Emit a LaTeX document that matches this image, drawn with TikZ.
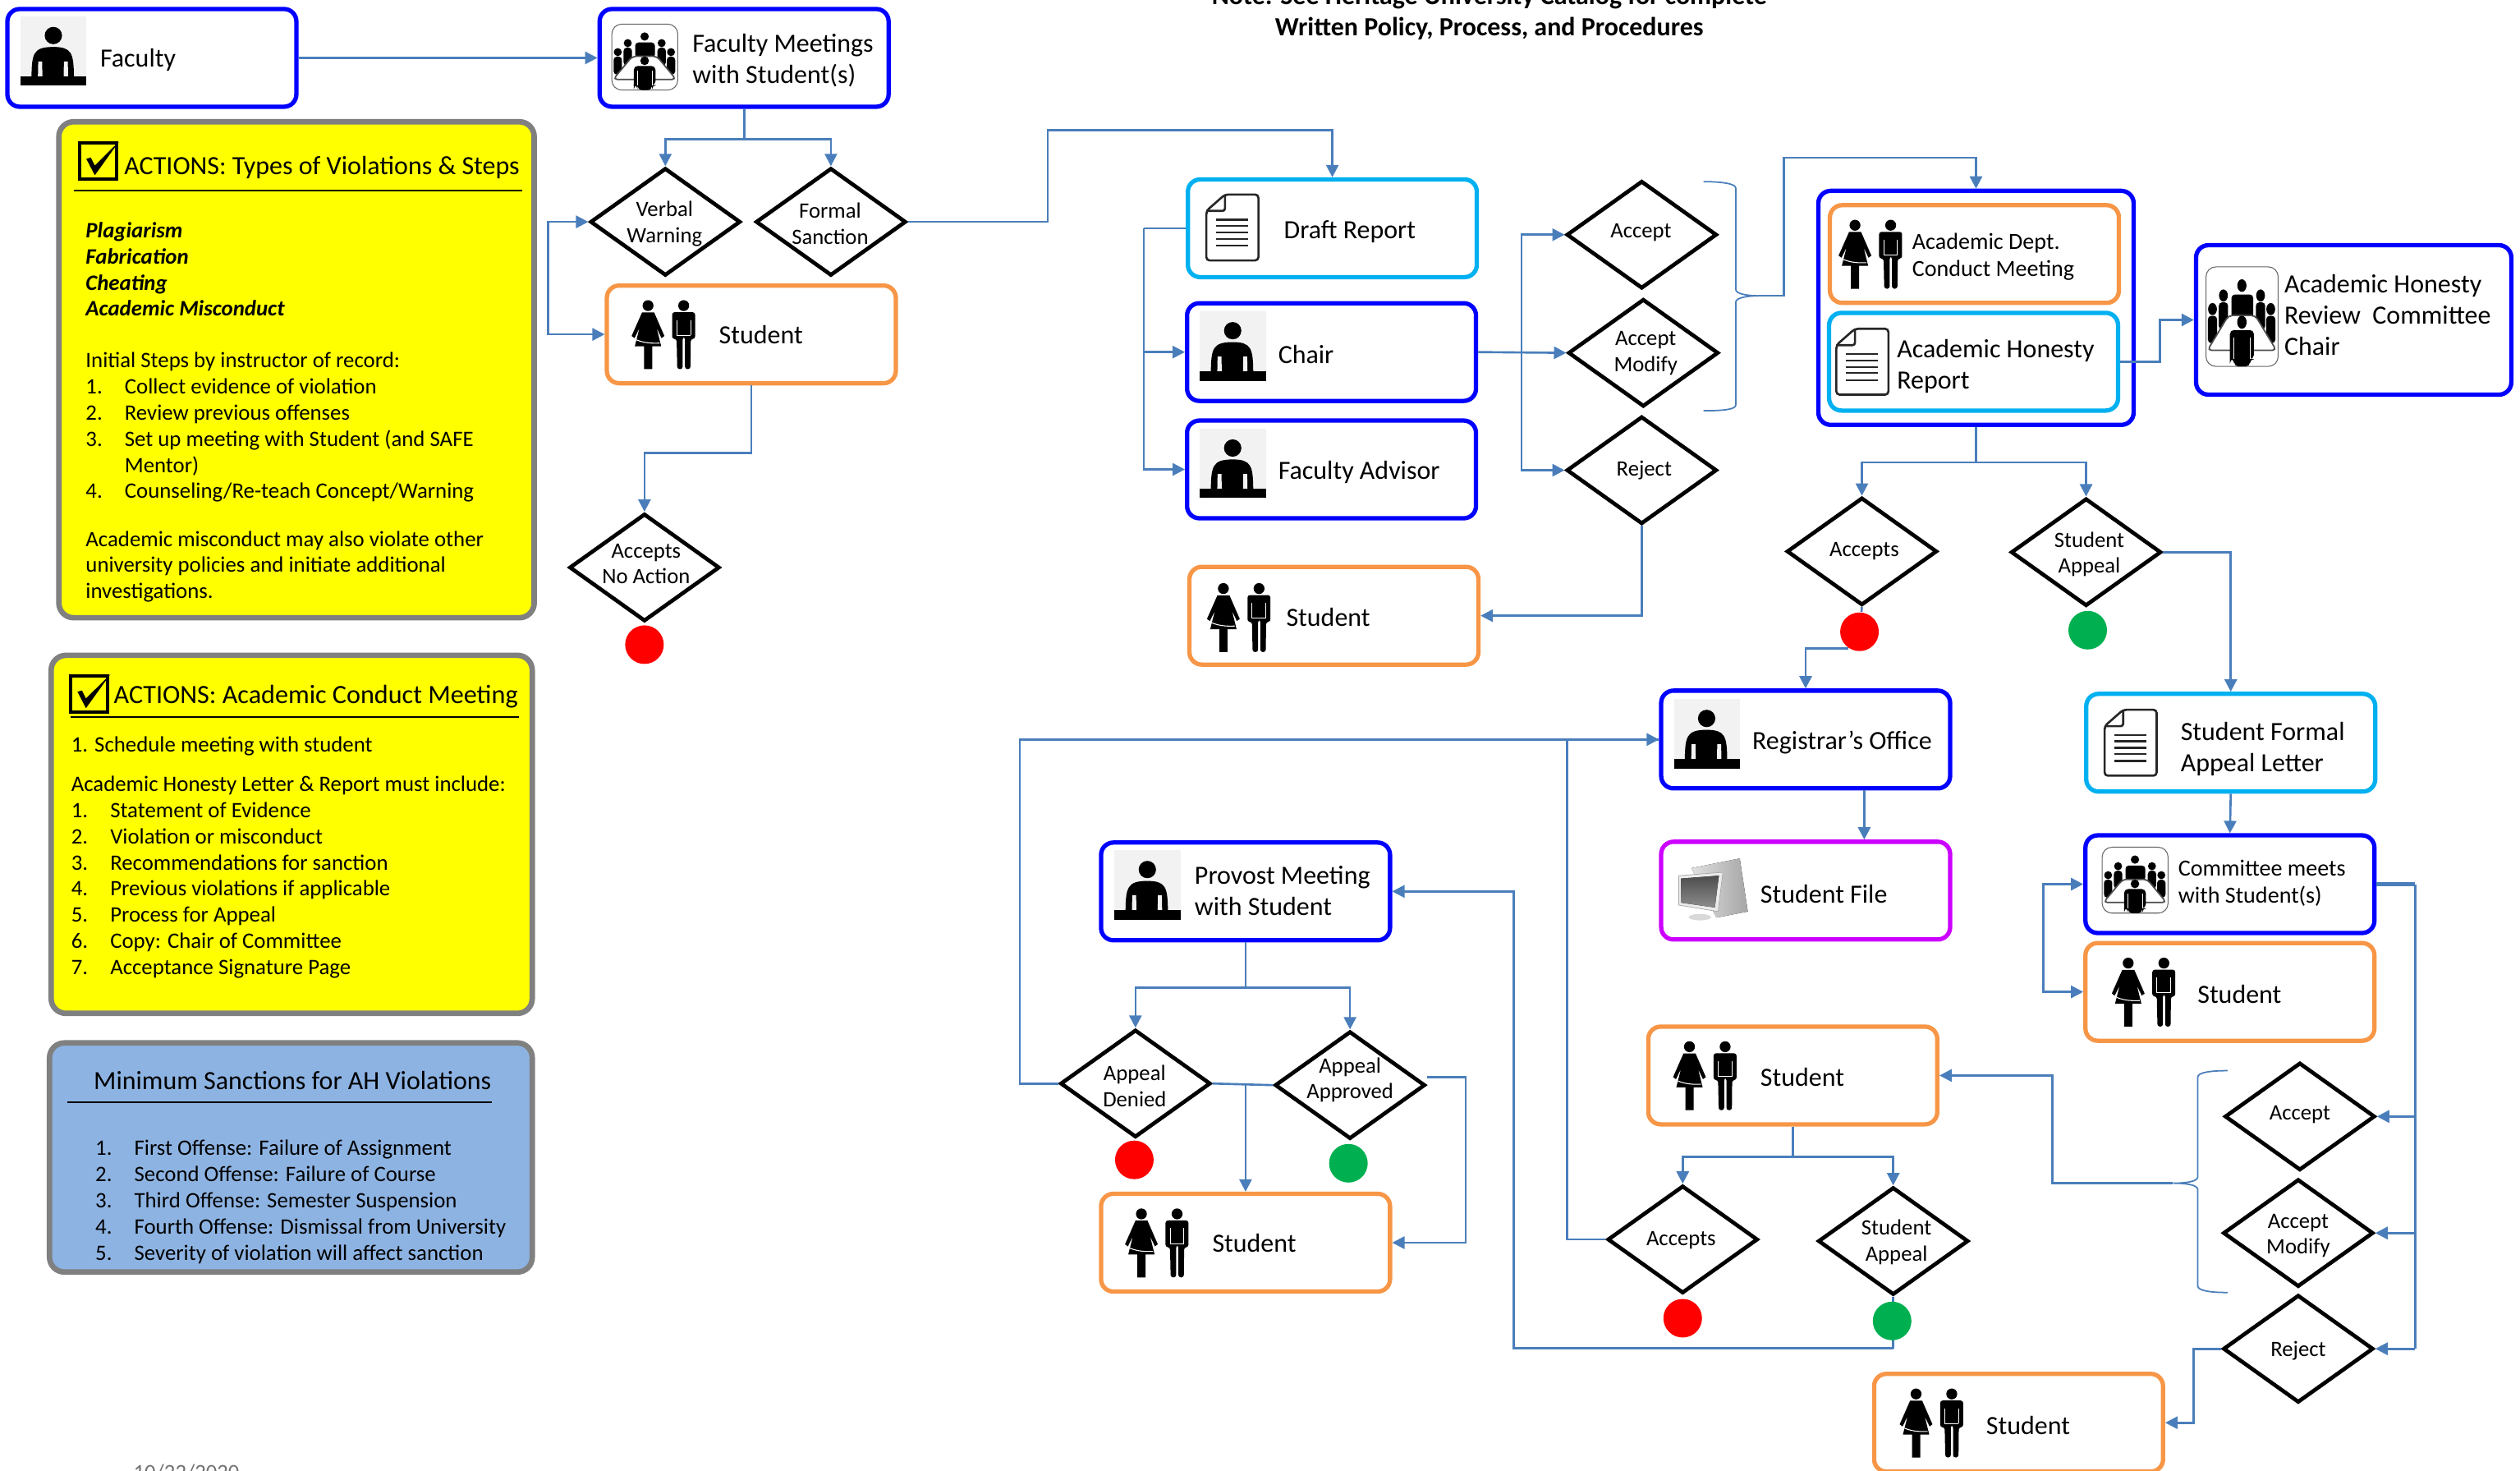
\documentclass[tikz,border=0pt]{standalone}
\usepackage{fontspec}
\setmainfont{Carlito}
\usetikzlibrary{arrows.meta,shapes.geometric}
\definecolor{linkblue}{HTML}{4A7EBB}
\definecolor{roleblue}{HTML}{0000FF}
\definecolor{doccyan}{HTML}{00B0F0}
\definecolor{studorange}{HTML}{F79646}
\definecolor{filepink}{HTML}{CC00FF}
\definecolor{panelblue}{HTML}{8DB3E2}
\definecolor{panelyellow}{RGB}{255,255,0}
\definecolor{noREDdot}{HTML}{FF0000}
\definecolor{yesdot}{HTML}{00B050}
\tikzset{
  box/.style={draw,fill=white,rounded corners=1.5mm,line width=1.5pt,
    minimum width=3.52cm,minimum height=1.19cm,inner sep=0pt},
  rolebox/.style={box,draw=roleblue},
  docbox/.style={box,draw=doccyan},
  studbox/.style={box,draw=studorange},
  filebox/.style={box,draw=filepink},
  panel/.style={draw=black!50,rounded corners=1.8mm,line width=1.9pt,inner sep=0pt},
  choice/.style={draw,diamond,fill=white,line width=1.35pt,minimum width=1.83cm,
    minimum height=1.31cm,inner sep=0pt},
  choicetxt/.style={align=center,inner sep=0pt,yshift=-0.4pt,font=\fontsize{7.6}{9}\selectfont},
  dot/.style={circle,minimum size=0.47cm,inner sep=0pt},
  nodot/.style={dot,fill=noREDdot},
  yesnode/.style={dot,fill=yesdot},
  lbl/.style={anchor=west,align=left,inner sep=0pt,yshift=-0.8pt,font=\fontsize{9.1}{10.8}\selectfont},
  small lbl/.style={lbl,font=\fontsize{8}{9.4}\selectfont},
  body/.style={anchor=north west,align=left,inner sep=0pt,yshift=-0.5pt,font=\fontsize{7.63}{9.06}\selectfont},
  head/.style={anchor=west,inner sep=0pt,yshift=-0.6pt,font=\fontsize{9.1}{11}\selectfont},
  link/.style={draw=linkblue,line width=0.75pt},
  thinlink/.style={draw=linkblue,line width=0.5pt},
}
\newcommand{\itm}[2]{\makebox[13.5pt][l]{#1}#2\\}
% person behind a desk
\def\DeskIcon(#1){%
  \begin{scope}[shift={(#1)}]
    \fill[black!5] (0,0) rectangle (41,43);
    \fill (20.4,11.9) circle (5.4);
    \fill (6.8,37.5) .. controls (7,23) and (8,19) .. (20.4,19)
      .. controls (32,19) and (33,23) .. (33.2,37.5) -- cycle;
    \fill[black!5] (11,28) -- (13.4,28) -- (13.6,37.2) -- (10.8,37.2) -- cycle;
    \fill[black!5] (27,28) -- (29.4,28) -- (29.6,37.2) -- (26.8,37.2) -- cycle;
    \fill (0,37.1) rectangle (41,43);
  \end{scope}
}
% woman and man
\def\PairIcon(#1){%
  \begin{scope}[shift={(#1)}]
    \fill (10.2,3.1) circle (3.4);
    \fill (6.5,7.3) -- (14,7.3) -- (20.4,22) -- (18.6,23.3) -- (15.6,17) -- (18.4,28.4)
      -- (12.8,28.4) -- (12.8,42.6) -- (7.7,42.6) -- (7.7,28.4) -- (2,28.4) -- (4.9,17)
      -- (1.8,23.3) -- (0,22) -- cycle;
    \draw[white,line width=0.3pt] (3,24.4) .. controls (8,26.5) and (13,26.6) .. (17.4,26.4);
    \fill (32.4,3.1) circle (3.4);
    \fill[rounded corners=0.3mm] (25.2,7.2) -- (39.5,7.2) -- (39.5,23.8) -- (36.8,23.8) -- (36.6,42.6)
      -- (33.2,42.6) -- (33.2,22.6) -- (31.8,22.6) -- (31.8,42.6) -- (28.4,42.6) -- (28,23.8) -- (25.2,23.8) -- cycle;
    \draw[white,line width=0.3pt] (28,21.6) -- (36.6,21.6);
    \draw[white,line width=0.2pt] (28,12) -- (28,21.6) (36.6,12) -- (36.6,21.6);
  \end{scope}
}
% page with a folded corner
\def\DocIcon(#1){%
  \begin{scope}[shift={(#1)}]
    \draw[black!85,line width=0.75pt,rounded corners=0.4mm,fill=white] (11.6,0) -- (32.4,0) -- (32.4,41) -- (0,41) -- (0,10.2) -- cycle;
    \draw[black!85,line width=0.75pt,rounded corners=0.3mm] (11.6,0) -- (11.6,10.2) -- (0,10.2);
    \foreach \row in {15.7,19.6,23.7,27.6,31.9}
      \draw[black!85,line width=0.65pt] (6,\row) -- (26,\row);
  \end{scope}
}
% people round a table
\def\TableIcon(#1)#2#3{%
  \begin{scope}[shift={(#1)},xscale=#2,yscale=#3]
    \draw[black!60,line width=0.3pt,rounded corners=1.2mm,fill=white] (0,0) rectangle (41,41);
    \fill (20.4,7.7) circle (2.6);
    \fill[rounded corners=0.4mm] (14.5,21) -- (14.5,11.4) -- (26.8,11.4) -- (26.8,21) -- cycle;
    \foreach \px/\py in {9.9/11.8,31/11.8,3.7/17.4,36.8/17.4} {
      \fill (\px,\py) circle (2.5);
      \fill[rounded corners=0.4mm] (\px-2.6,\py+2.8) rectangle (\px+2.6,\py+14);
    }
    \draw[black!70,fill=white,line width=0.5pt,rounded corners=0.5mm] (12.8,20) -- (28,20) -- (40,34.4) -- (0.8,34.4) -- cycle;
    \fill (20.4,22.8) circle (2.7);
    \fill[rounded corners=0.5mm] (13.6,41) -- (13.6,26) -- (27.2,26) -- (27.2,38) -- (25,38) -- (25,41) -- (16,41) -- (16,38) -- (13.6,38) -- cycle;
    \draw[white,line width=0.25pt] (16,29) -- (16,38) (25,29) -- (25,38);
  \end{scope}
}
% computer with a screen
\def\ScreenIcon(#1){%
  \begin{scope}[shift={(#1)}]
    \fill[left color=black!12,right color=black!35] (8,6) -- (38,0) -- (43,33) -- (23.5,36.8) -- cycle;
    \fill[black!15] (13.2,36.5) ellipse (7 and 2);
    \fill[black!8,draw=black!35,line width=0.2pt] (0,10.7) -- (27.5,8.6) -- (24.5,33) -- (0,29) -- cycle;
    \fill[top color=black!70,bottom color=black!45] (1.5,12.5) -- (25,10.7) -- (22.5,30.5) -- (1.5,27.5) -- cycle;
  \end{scope}
}
% box with a tick
\def\CheckIcon(#1){%
  \begin{scope}[shift={(#1)}]
    \draw[line width=1pt] (0,0) rectangle (23,22.5);
    \fill (4.2,9.8) -- (7,9) -- (9.5,14) -- (24.7,-1.1) -- (9.5,20) -- cycle;
  \end{scope}
}

\begin{document}
\begin{tikzpicture}[x=0.01957cm,y=-0.01957cm,>={Triangle[length=1.5mm,width=1.5mm]}]
  \useasboundingbox (0,0) rectangle (1568,915);
  % Note and date
  \node[align=center,inner sep=0pt,font=\bfseries\fontsize{9.1}{11}\selectfont] (note) at (926.7,8)
    {Note: See Heritage University Catalog for complete\\Written Policy, Process, and Procedures};
  \node[anchor=north,inner sep=0pt,text=black!55,font=\fontsize{7.6}{9}\selectfont] (date) at (116,910.5) {10/22/2020};
  % Panels on the left
  \node[panel,fill=panelyellow,minimum width=5.79cm,minimum height=6.04cm] (typesP) at (184.5,230) {};
  \CheckIcon(49.5,89)
  \node[head] (typesH) at (77,103) {ACTIONS: Types of Violations \& Steps};
  \draw[line width=0.6pt] (46,118.5) -- (325,118.5);
  \node[body,font=\bfseries\itshape\fontsize{7.63}{9.06}\selectfont] (typesA) at (53,137) {Plagiarism\\Fabrication\\Cheating\\Academic Misconduct};
  \node[body] (typesB) at (53,218) {Initial Steps by instructor of record:\\
    \itm{1.}{Collect evidence of violation}\itm{2.}{Review previous offenses}%
    \itm{3.}{Set up meeting with Student (and SAFE}\itm{}{Mentor)}\itm{4.}{Counseling/Re-teach Concept/Warning}};
  \node[body] (typesC) at (53,329) {Academic misconduct may also violate other\\university policies and initiate additional\\investigations.};
  \node[panel,fill=panelyellow,minimum width=5.86cm,minimum height=4.36cm] (meetP) at (181.5,519) {};
  \CheckIcon(44,420.5)
  \node[head,font=\fontsize{9.15}{11}\selectfont] (meetH) at (70.5,432) {ACTIONS: Academic Conduct Meeting};
  \draw[line width=0.6pt] (44,446) -- (323,446);
  \node[body] (meetA) at (44,457) {1. Schedule meeting with student};
  \node[body] (meetB) at (44,481.5) {Academic Honesty Letter \& Report must include:\\
    \itm{1.}{Statement of Evidence}\itm{2.}{Violation or misconduct}\itm{3.}{Recommendations for sanction}%
    \itm{4.}{Previous violations if applicable}\itm{5.}{Process for Appeal}\itm{6.}{Copy: Chair of Committee}%
    \itm{7.}{Acceptance Signature Page}};
  \node[panel,fill=panelblue,minimum width=5.88cm,minimum height=2.79cm] (sanctP) at (181,720) {};
  \node[head] (sanctH) at (58,671) {Minimum Sanctions for AH Violations};
  \draw[line width=0.6pt] (42,685.5) -- (306,685.5);
  \node[body] (sanctA) at (59,708) {\itm{1.}{First Offense: Failure of Assignment}\itm{2.}{Second Offense: Failure of Course}%
    \itm{3.}{Third Offense: Semester Suspension}\itm{4.}{Fourth Offense: Dismissal from University}%
    \itm{5.}{Severity of violation will affect sanction}};
  % Faculty and first meeting
  \node[rolebox] (faculty) at (94.5,36) {};
  \DeskIcon(12.8,10.2)
  \node[lbl] (facultyL) at (62,36) {Faculty};
  \node[rolebox] (meeting) at (463,36) {};
  \TableIcon(380.7,15){1}{1}
  \node[lbl] (meetingL) at (430.5,36) {Faculty Meetings\\with Student(s)};
  \node[choice] (verbal) at (414,138) {};
  \node[choicetxt] (verbalL) at (413.5,138.5) {Verbal\\Warning};
  \node[choice] (formal) at (517,138) {};
  \node[choicetxt] (formalL) at (516.5,138.5) {Formal\\Sanction};
  \node[studbox] (studentA) at (467.5,208) {};
  \PairIcon(393,187)
  \node[lbl] (studentAL) at (447,207) {Student};
  \node[choice] (noaction) at (401,353) {};
  \node[choicetxt] (noactionL) at (402,350) {Accepts\\No Action};
  \node[nodot] (redA) at (401,401) {};
  \draw[link,->] (faculty.east) -- (meeting.west);
  \draw[link] (meeting.south) -- ++(0,19) coordinate (splitA);
  \draw[link,->] (splitA) -| (verbal.north);
  \draw[link,->] (splitA) -| (formal.north);
  \draw[link,<->] (verbal.west) -- ++(-25,0) |- (studentA.west);
  \draw[link,->] (studentA.south) -- ++(0,42) -| (noaction.north);
  % Draft report column
  \node[docbox] (draft) at (829,142) {};
  \DocIcon(750.6,121)
  \node[lbl] (draftL) at (798.5,142.5) {Draft Report};
  \node[rolebox] (chair) at (828.5,219) {};
  \DeskIcon(746.6,193.8)
  \node[lbl] (chairL) at (795,219) {Chair};
  \node[rolebox] (advisor) at (828.5,292) {};
  \DeskIcon(746.6,266.8)
  \node[lbl] (advisorL) at (795,292.5) {Faculty Advisor};
  \node[studbox] (studentB) at (830,383) {};
  \PairIcon(751,363)
  \node[lbl] (studentBL) at (800,382.5) {Student};
  \node[choice] (acceptA) at (1021.5,146) {};
  \node[choicetxt] (acceptAL) at (1021,144) {Accept};
  \node[choice] (modifyA) at (1022.5,219.5) {};
  \node[choicetxt] (modifyAL) at (1024,219) {Accept\\Modify};
  \node[choice] (rejectA) at (1021.5,292.5) {};
  \node[choicetxt] (rejectAL) at (1023,292) {Reject};
  \draw[link,->] (formal.east) -- (652,138) -- (652,81) -| (draft.north);
  \draw[link] (draft.west) -- ++(-26,0) coordinate (busA);
  \draw[link,->] (busA) |- (advisor.west);
  \draw[link,->] (busA |- chair.west) -- (chair.west);
  \draw[link,->] (chair.east) -- (modifyA.west);
  \path (chair.east) -- ++(27,0) coordinate (busB);
  \draw[link,->] (busB) |- (acceptA.west);
  \draw[link,->] (busB) |- (rejectA.west);
  \draw[link,->] (rejectA.south) |- (studentB.east);
  % Brace over the outcomes
  \coordinate (braceA) at (1094,184);
  \draw[thinlink] (1060,113) .. controls (1070,113) and (1080,114) .. (1080,117) -- (1080,180)
    .. controls (1080,183) and (1088,184) .. (braceA) .. controls (1088,184) and (1080,185) .. (1080,188)
    -- (1080,252) .. controls (1080,255) and (1070,255.5) .. (1060,255.5);
  % Conduct meeting and review
  \node[rolebox,minimum width=3.84cm,minimum height=2.85cm] (conduct) at (1229.5,191.5) {};
  \node[studbox] (deptmeet) at (1228.5,158) {};
  \PairIcon(1144,137)
  \node[small lbl] (deptmeetL) at (1189.5,158.5) {Academic Dept.\\Conduct Meeting};
  \node[docbox] (report) at (1228,225) {};
  \DocIcon(1142.6,204.5)
  \node[lbl] (reportL) at (1180,226.5) {Academic Honesty\\Report};
  \node[rolebox,minimum width=3.84cm,minimum height=1.82cm] (review) at (1464.5,199) {};
  \TableIcon(1372.6,166){1.095}{1.51}
  \node[lbl] (reviewL) at (1421,194.5) {Academic Honesty\\Review~~Committee\\Chair};
  \draw[link,->] (braceA) -- (1110,184) -- (1110,98) -| (conduct.north);
  \draw[link,->] (report.east) -- (1344,225) |- (review.west);
  \node[choice] (acceptsA) at (1158.5,343) {};
  \node[choicetxt] (acceptsAL) at (1160,342) {Accepts};
  \node[choice] (appealA) at (1298,343.5) {};
  \node[choicetxt] (appealAL) at (1300,344) {Student\\Appeal};
  \node[nodot] (redB) at (1157,393) {};
  \node[yesnode] (greenB) at (1299,392) {};
  \draw[link] (conduct.south) -- ++(0,22) coordinate (splitB);
  \draw[link,->] (splitB) -| (acceptsA.north);
  \draw[link,->] (splitB) -| (appealA.north);
  \draw[link] (acceptsA.south) -- (redB);
  % Registrar and formal appeal
  \node[rolebox] (registrar) at (1123.5,460) {};
  \DeskIcon(1041.5,435)
  \node[lbl] (registrarL) at (1090,460.5) {Registrar’s Office};
  \node[filebox] (file) at (1123.5,554) {};
  \ScreenIcon(1044.5,534)
  \node[lbl] (fileL) at (1095,554.5) {Student File};
  \node[docbox] (letter) at (1388,462) {};
  \DocIcon(1309.5,441.5)
  \node[lbl] (letterL) at (1356.5,464.5) {Student Formal\\Appeal Letter};
  \node[rolebox] (committee) at (1387.5,550) {};
  \TableIcon(1308,527){1}{1}
  \node[small lbl] (committeeL) at (1355,548) {Committee meets\\with Student(s)};
  \node[studbox] (studentC) at (1387.5,617) {};
  \PairIcon(1314,596)
  \node[lbl] (studentCL) at (1367,617) {Student};
  \draw[link,->] (redB.-124) -| (registrar.north);
  \draw[link,->] ([xshift=0.714cm]registrar.south) -- ([xshift=0.714cm]file.north);
  \draw[link,->] (appealA.east) -| (letter.north);
  \draw[link,->] (letter.south) -- (committee.north);
  \draw[link,<->] (committee.west) -- ++(-25,0) |- (studentC.west);
  % Committee outcomes
  \node[choice] (acceptB) at (1431,694.5) {};
  \node[choicetxt] (acceptBL) at (1431,692.5) {Accept};
  \node[choice] (modifyB) at (1430,767) {};
  \node[choicetxt] (modifyBL) at (1430,768) {Accept\\Modify};
  \node[choice] (rejectB) at (1430,839) {};
  \node[choicetxt] (rejectBL) at (1430,839.5) {Reject};
  \node[studbox] (studentD) at (1115.5,669) {};
  \PairIcon(1041,648)
  \node[lbl] (studentDL) at (1095,668.5) {Student};
  \node[studbox] (studentE) at (1256,885) {};
  \PairIcon(1182,864)
  \node[lbl] (studentEL) at (1235.5,885) {Student};
  \draw[link,line width=1.3pt] (committee.east) -- ++(24,0) coordinate (busC);
  \draw[link] (busC) -- (busC |- rejectB.east);
  \draw[link,->] (busC |- acceptB.east) -- (acceptB.east);
  \draw[link,->] (busC |- modifyB.east) -- (modifyB.east);
  \draw[link,->] (busC |- rejectB.east) -- (rejectB.east);
  \draw[link,->] (rejectB.west) -- ++(-17,0) |- (studentE.east);
  \coordinate (braceB) at (1352,736);
  \draw[thinlink] (1386,666) .. controls (1376,666) and (1367.5,667) .. (1367.5,670) -- (1367.5,732)
    .. controls (1367.5,735) and (1360,736) .. (braceB) .. controls (1360,736) and (1367.5,737) .. (1367.5,740)
    -- (1367.5,800) .. controls (1367.5,803) and (1376,804) .. (1386,804);
  \draw[link,->] (braceB) -- (1277,736) |- (studentD.east);
  \node[choice] (acceptsB) at (1047,771) {};
  \node[choicetxt] (acceptsBL) at (1046,771) {Accepts};
  \node[choice] (appealB) at (1178,772) {};
  \node[choicetxt] (appealBL) at (1180,772) {Student\\Appeal};
  \node[nodot] (redC) at (1047,820) {};
  \draw[link] (appealB.south) -- ++(0,32) coordinate (cornerB);
  \node[yesnode] (greenC) at (1177.3,821.7) {};
  \draw[link] (studentD.south) -- ++(0,19) coordinate (splitC);
  \draw[link,->] (splitC) -| (acceptsB.north);
  \draw[link,->] (splitC) -| (appealB.north);
  \draw[link] (acceptsB.west) -- ++(-24,0) |- (registrar.west);
  % Provost
  \node[rolebox] (provost) at (775,554.5) {};
  \DeskIcon(693.5,529)
  \node[lbl] (provostL) at (743,552.5) {Provost Meeting\\with Student};
  \node[choice] (denied) at (706.5,674) {};
  \node[choicetxt] (deniedL) at (706,675) {Appeal\\Denied};
  \node[choice] (approved) at (840,675) {};
  \node[choicetxt] (approvedL) at (840,671) {Appeal\\Approved};
  \node[nodot] (redD) at (705.8,721.5) {};
  \node[yesnode] (greenD) at (839,723.6) {};
  \node[studbox] (studentF) at (775,773) {};
  \PairIcon(700,752)
  \node[lbl] (studentFL) at (754,772) {Student};
  \draw[link,->] (cornerB) -- ++(-236.3,0) |- (provost.east);
  \draw[link] (provost.south) -- ++(0,28) coordinate (splitD);
  \draw[link,->] (splitD) -| (denied.north);
  \draw[link,->] (splitD) -| (approved.north);
  \draw[link,->] (denied.west) -- ++(-24,0) |- (registrar.west);
  \draw[link] (denied.east) -- (approved.west);
  \draw[link,->] (denied.east -| studentF.north) -- (studentF.north);
  \draw[link,->] ([yshift=0.1cm]approved.east) -- ++(24,0) |- (studentF.east);
\end{tikzpicture}
\end{document}
